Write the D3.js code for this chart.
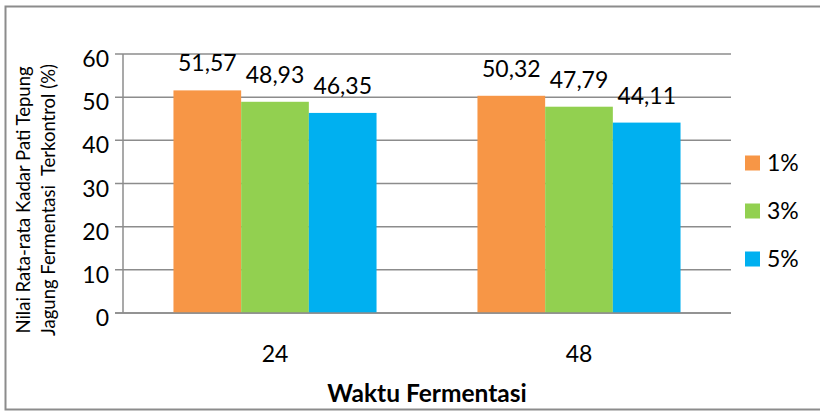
<!DOCTYPE html>
<html>
<head>
<meta charset="utf-8">
<script src="https://cdn.jsdelivr.net/npm/d3@7"></script>
<style>
  body { margin: 0; background: #fff; }
  text { font-family: Lato, "Open Sans", sans-serif; fill: #000; }
</style>
</head>
<body>
<svg></svg>
<script>
// chart data
let categories = ['24', '48']
let seriesNames = ['1%', '3%', '5%']
let seriesColors = ['#F79646', '#92D050', '#00B0F0']
let values1 = [51.57, 50.32]
let values3 = [48.93, 47.79]
let values5 = [46.35, 44.11]
let yTicks = [0, 10, 20, 30, 40, 50, 60]

let width = 820
let height = 413

// plot area
let plotLeft = 123
let plotRight = 731
let plotTop = 54
let plotBottom = 313

let svg = d3.select('svg')
    .attr('width', width)
    .attr('height', height)

// outer frame
svg.append('rect')
    .attr('x', 5.5)
    .attr('y', 6.5)
    .attr('width', 830)
    .attr('height', 403)
    .attr('fill', 'none')
    .attr('stroke', '#8c8c8c')
    .attr('stroke-width', 2)

let series = [values1, values3, values5]

let xScale = d3.scaleBand()
    .domain(categories)
    .range([plotLeft, plotRight])
    .paddingInner(0.332)
    .paddingOuter(0.166)

let innerScale = d3.scaleBand()
    .domain(seriesNames)
    .range([0, xScale.bandwidth()])

let yScale = d3.scaleLinear()
    .domain([0, 60])
    .range([plotBottom, plotTop])

// gridlines
svg.append('g')
    .selectAll('line')
    .data(yTicks)
    .enter()
    .append('line')
    .attr('x1', plotLeft - 8)
    .attr('x2', plotRight)
    .attr('y1', (d) => yScale(d))
    .attr('y2', (d) => yScale(d))
    .attr('stroke', '#8c8c8c')
    .attr('stroke-width', 1.5)

// y axis
let yAxis = d3.axisLeft(yScale)
    .tickValues(yTicks)
    .tickSize(0)
    .tickPadding(14)

let yg = svg.append('g')
    .attr('transform', 'translate(' + plotLeft + ', 0)')
    .call(yAxis)
yg.select('.domain').remove()
yg.selectAll('text')
    .style('font-size', '23px')
    .attr('dy', '0.55em')

svg.append('line')
    .attr('x1', plotLeft)
    .attr('x2', plotLeft)
    .attr('y1', plotTop)
    .attr('y2', plotBottom)
    .attr('stroke', '#8c8c8c')
    .attr('stroke-width', 1.5)

// bars
seriesNames.forEach((name, si) => {
    let g = svg.append('g')
    g.selectAll('rect')
        .data(series[si])
        .enter()
        .append('rect')
        .attr('x', (d, i) => xScale(categories[i]) + innerScale(name))
        .attr('y', (d) => yScale(d))
        .attr('width', innerScale.bandwidth())
        .attr('height', (d) => plotBottom - yScale(d))
        .attr('fill', seriesColors[si])

    g.selectAll('text')
        .data(series[si])
        .enter()
        .append('text')
        .attr('x', (d, i) => xScale(categories[i]) + innerScale(name) + innerScale.bandwidth() / 2)
        .attr('y', (d) => yScale(d) - 19)
        .attr('text-anchor', 'middle')
        .style('font-size', '23px')
        .text((d) => d.toFixed(2).replace('.', ','))
})

// baseline on top of bars
svg.append('line')
    .attr('x1', plotLeft - 8)
    .attr('x2', plotRight)
    .attr('y1', plotBottom)
    .attr('y2', plotBottom)
    .attr('stroke', '#8c8c8c')
    .attr('stroke-width', 1.5)

// x axis
let xAxis = d3.axisBottom(xScale)
    .tickSize(0)
    .tickPadding(0)
let xg = svg.append('g')
    .attr('transform', 'translate(0, ' + 362 + ')')
    .call(xAxis)
xg.select('.domain').remove()
xg.selectAll('text')
    .style('font-size', '23px')
    .attr('dy', 0)

// axis titles
svg.append('text')
    .attr('x', (plotLeft + plotRight) / 2)
    .attr('y', 402)
    .attr('text-anchor', 'middle')
    .style('font-size', '24.5px')
    .style('font-weight', 'bold')
    .text('Waktu Fermentasi')

let yTitle = svg.append('text')
    .attr('transform', 'translate(0, 200) rotate(-90)')
    .attr('text-anchor', 'middle')
    .style('font-size', '18.5px')
yTitle.append('tspan')
    .attr('x', 0)
    .attr('y', 30)
    .text('Nilai Rata-rata Kadar Pati Tepung')
yTitle.append('tspan')
    .attr('x', 0)
    .attr('y', 55)
    .style('white-space', 'pre')
    .text('Jagung Fermentasi  Terkontrol (%)')

// legend
let legend = svg.append('g')
    .selectAll('g')
    .data(seriesNames)
    .enter()
    .append('g')
    .attr('transform', (d, i) => 'translate(745, ' + (163 + i * 48) + ')')

legend.append('rect')
    .attr('x', 0)
    .attr('y', -7.5)
    .attr('width', 15)
    .attr('height', 15)
    .attr('fill', (d, i) => seriesColors[i])

legend.append('text')
    .attr('x', 22)
    .attr('y', 8)
    .style('font-size', '23px')
    .text((d) => d)
</script>
</body>
</html>
